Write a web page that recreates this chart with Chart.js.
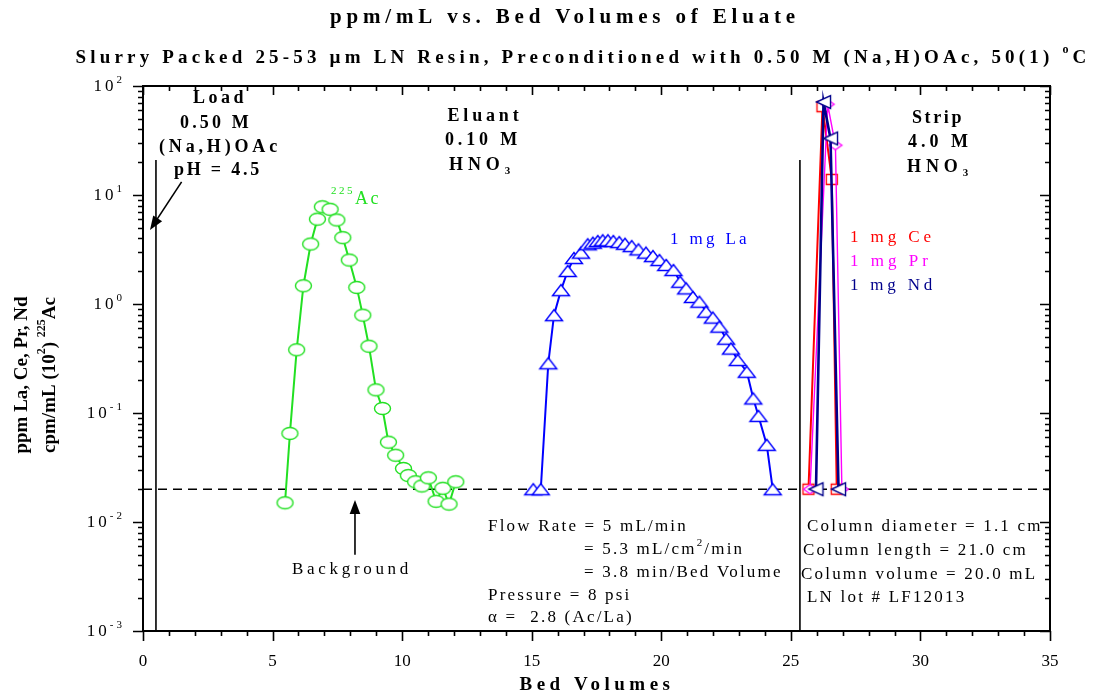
<!DOCTYPE html>
<html>
<head>
<meta charset="utf-8">
<script src="https://cdn.jsdelivr.net/npm/chart.js@4/dist/chart.umd.min.js"></script>
<style>
  html, body { margin: 0; padding: 0; background: #fff; }
  #wrap { width: 1102px; height: 695px; position: relative; }
</style>
</head>
<body>
<div id="wrap"><canvas id="c" width="1102" height="695"></canvas></div>
<script>
// 225Ac activity, cpm/mL (x10^2), by bed volume
const acBV  = [5.48, 5.67, 5.93, 6.19, 6.47, 6.73, 6.92, 7.22, 7.48, 7.71, 7.96, 8.25, 8.48, 8.72,
               8.99, 9.24, 9.47, 9.75, 10.05, 10.24, 10.52, 10.76, 11.01, 11.31, 11.57, 11.81, 12.07];
const acVal = [0.015, 0.065, 0.38, 1.47, 3.55, 6.0, 7.8, 7.4, 5.9, 4.06, 2.53, 1.42, 0.79, 0.41,
               0.163, 0.110, 0.054, 0.041, 0.031, 0.0267, 0.0234, 0.0214, 0.0254, 0.0155, 0.0204, 0.0146, 0.0234];

// La, ppm (1 mg load), eluted with 0.10 M HNO3
const laBV  = [15.06, 15.35, 15.64, 15.86, 16.13, 16.39, 16.63, 16.90, 17.16, 17.36, 17.55, 17.74, 17.94,
               18.15, 18.38, 18.60, 18.86, 19.12, 19.41, 19.68, 19.93, 20.19, 20.47, 20.73, 20.96, 21.22,
               21.47, 21.73, 21.99, 22.24, 22.50, 22.69, 22.95, 23.30, 23.55, 23.75, 24.07, 24.30];
const laVal = [0.020, 0.020, 0.286, 0.79, 1.34, 2.01, 2.64, 2.96, 3.53, 3.65, 3.78, 3.84, 3.84,
               3.78, 3.70, 3.57, 3.40, 3.17, 2.96, 2.75, 2.53, 2.28, 2.05, 1.60, 1.39, 1.16,
               1.05, 0.85, 0.75, 0.62, 0.48, 0.39, 0.306, 0.239, 0.136, 0.094, 0.051, 0.020];

// Ce, Pr, Nd, ppm, stripped with 4.0 M HNO3
const ceBV  = [25.68, 26.22, 26.58, 26.77];
const ceVal = [0.020, 64.6, 13.9, 0.020];
const prBV  = [25.74, 26.42, 26.72, 26.97];
const prVal = [0.020, 68.0, 28.6, 0.020];
const ndBV  = [25.97, 26.26, 26.53, 26.84];
const ndVal = [0.020, 71.3, 33.0, 0.020];

// background level and column-section boundaries
const backgroundLevel = 0.02;
const loadLineBV  = 0.5;
const stripLineBV = 25.35;
const sectionLineTop = 21;

// axes
const xTicks = [0, 5, 10, 15, 20, 25, 30, 35];
const yExponents = [-3, -2, -1, 0, 1, 2];

const FONT = '"Liberation Serif", "Times New Roman", serif';

function pts(xs, ys) { return xs.map((x, i) => ({ x: x, y: ys[i] })); }

// hollow (white-filled) marker bitmaps
function marker(w, h, color, lw, path) {
  const c = document.createElement('canvas');
  c.width = Math.ceil(w + lw * 2 + 2);
  c.height = Math.ceil(h + lw * 2 + 2);
  const g = c.getContext('2d');
  g.translate(c.width / 2, c.height / 2);
  g.beginPath();
  path(g, w / 2, h / 2);
  g.closePath();
  g.fillStyle = '#fff';
  g.fill();
  g.lineWidth = lw;
  g.strokeStyle = color;
  g.lineJoin = 'miter';
  g.stroke();
  return c;
}
const ellipse  = (g, a, b) => g.ellipse(0, 0, a, b, 0, 0, Math.PI * 2);
const triUp    = (g, a, b) => { g.moveTo(0, -b); g.lineTo(a, b); g.lineTo(-a, b); };
const triLeft  = (g, a, b) => { g.moveTo(-a, 0); g.lineTo(a, -b); g.lineTo(a, b); };
const square   = (g, a, b) => g.rect(-a, -b, 2 * a, 2 * b);
const diamond  = (g, a, b) => { g.moveTo(0, -b); g.lineTo(a, 0); g.lineTo(0, b); g.lineTo(-a, 0); };

const GREEN = '#22e022', BLUE = '#0000ff', RED = '#ff0000', MAGENTA = '#ff00ff', NAVY = '#00008b';

const acMark = marker(16, 12, GREEN, 1.4, ellipse);
const laMark = marker(17, 11, BLUE, 1.4, triUp);
const ceMark = marker(11, 10, RED, 1.3, square);
const prMark = marker(13, 9, MAGENTA, 1.3, diamond);
const ndMark = marker(14, 13, NAVY, 1.4, triLeft);

// rich text: parts may carry superscript / subscript pieces
function drawRich(ctx, parts, x, y, o) {
  const size = o.size, weight = o.bold ? 'bold ' : '';
  const segs = parts.map(p => typeof p === 'string' ? { t: p } : p);
  const hasLS = 'letterSpacing' in ctx;
  const fontFor = s => weight + (s.s ? Math.round(size * 0.62) : size) + 'px ' + FONT;
  ctx.save();
  const measure = sp => {
    let w = 0;
    segs.forEach(s => { ctx.font = fontFor(s); if (hasLS) ctx.letterSpacing = sp + 'px'; w += ctx.measureText(s.t).width; });
    return w;
  };
  let sp = o.spacing || 0;
  if (o.width && hasLS) {
    const n = segs.reduce((a, s) => a + s.t.length, 0);
    sp = (o.width - measure(0)) / n;
  }
  const total = measure(sp);
  ctx.translate(x, y);
  if (o.rotate) ctx.rotate(o.rotate);
  let cx = o.align === 'center' ? -total / 2 : o.align === 'right' ? -total : 0;
  ctx.fillStyle = o.color || '#000';
  ctx.textBaseline = 'middle';
  ctx.textAlign = 'left';
  segs.forEach(s => {
    ctx.font = fontFor(s);
    if (hasLS) ctx.letterSpacing = sp + 'px';
    const dy = s.s === 'sup' ? -size * 0.42 : s.s === 'sub' ? size * 0.32 : 0;
    ctx.fillText(s.t, cx, dy);
    cx += ctx.measureText(s.t).width;
  });
  ctx.restore();
}

function arrow(ctx, x1, y1, x2, y2, head) {
  const a = Math.atan2(y2 - y1, x2 - x1);
  ctx.save();
  ctx.strokeStyle = '#000'; ctx.fillStyle = '#000'; ctx.lineWidth = 1.6;
  ctx.beginPath();
  ctx.moveTo(x1, y1);
  ctx.lineTo(x2 - Math.cos(a) * head * 0.8, y2 - Math.sin(a) * head * 0.8);
  ctx.stroke();
  ctx.beginPath();
  ctx.moveTo(x2, y2);
  ctx.lineTo(x2 - head * Math.cos(a) + head * 0.38 * Math.sin(a), y2 - head * Math.sin(a) - head * 0.38 * Math.cos(a));
  ctx.lineTo(x2 - head * Math.cos(a) - head * 0.38 * Math.sin(a), y2 - head * Math.sin(a) + head * 0.38 * Math.cos(a));
  ctx.closePath();
  ctx.fill();
  ctx.restore();
}

const decorations = {
  id: 'decorations',
  afterDraw(chart) {
    const ctx = chart.ctx, xs = chart.scales.x, ys = chart.scales.y, a = chart.chartArea;
    const X = v => xs.getPixelForValue(v), Y = v => ys.getPixelForValue(v);

    // frame and tick marks
    ctx.save();
    ctx.strokeStyle = '#000';
    ctx.lineWidth = 2;
    ctx.strokeRect(a.left, a.top, a.right - a.left, a.bottom - a.top);
    ctx.lineWidth = 1.6;
    ctx.beginPath();
    for (let v = xTicks[0]; v <= xTicks[xTicks.length - 1]; v += 1) {
      const px = Math.round(X(v)) + 0.5, major = v % 5 === 0;
      ctx.moveTo(px, a.bottom); ctx.lineTo(px, a.bottom + (major ? 10 : 5));
      ctx.moveTo(px, a.top); ctx.lineTo(px, a.top + (major ? 9 : 5));
    }
    for (let e = yExponents[0]; e <= yExponents[yExponents.length - 1]; e++) {
      for (let m = 1; m <= 9; m++) {
        if (e === yExponents[yExponents.length - 1] && m > 1) break;
        const py = Math.round(Y(m * Math.pow(10, e))) + 0.5, major = m === 1;
        ctx.moveTo(a.left, py); ctx.lineTo(a.left - (major ? 10 : 5), py);
        ctx.moveTo(a.right, py); ctx.lineTo(a.right - (major ? 10 : 5), py);
      }
    }
    ctx.stroke();
    ctx.restore();

    // y tick labels 10^n
    yExponents.forEach(e => {
      const py = Y(Math.pow(10, e));
      drawRich(ctx, ['10', { t: String(e), s: 'sup' }], a.left - 18, py + 1,
               { size: 17, spacing: 3, align: 'right' });
    });

    // titles
    drawRich(ctx, ['ppm/mL vs. Bed Volumes of Eluate'], 565, 18, { size: 21, bold: true, align: 'center', width: 470 });
    drawRich(ctx, ['Slurry Packed 25-53 µm LN Resin, Preconditioned with 0.50 M (Na,H)OAc, 50(1) ', { t: 'o', s: 'sup' }, 'C'],
             583, 58, { size: 19, bold: true, align: 'center', width: 1015 });
    drawRich(ctx, ['Bed Volumes'], 597, 685, { size: 19, bold: true, align: 'center', width: 155 });
    drawRich(ctx, ['ppm La, Ce, Pr, Nd'], 22, 375, { size: 19, bold: true, align: 'center', rotate: -Math.PI / 2 });
    drawRich(ctx, ['cpm/mL (10', { t: '2', s: 'sup' }, ') ', { t: '225', s: 'sup' }, 'Ac'], 50, 375,
             { size: 19, bold: true, align: 'center', rotate: -Math.PI / 2 });

    // section labels
    const B = (w) => ({ size: 18, bold: true, align: 'center', width: w });
    drawRich(ctx, ['Load'], 220, 98, B(54));
    drawRich(ctx, ['0.50 M'], 216, 123, B(72));
    drawRich(ctx, ['(Na,H)OAc'], 220, 147, B(122));
    drawRich(ctx, ['pH = 4.5'], 218, 170, B(88));
    drawRich(ctx, ['Eluant'], 485, 116, B(75));
    drawRich(ctx, ['0.10 M'], 483, 140, B(76));
    drawRich(ctx, ['HNO', { t: '3', s: 'sub' }], 482, 165, B(66));
    drawRich(ctx, ['Strip'], 938, 118, B(52));
    drawRich(ctx, ['4.0 M'], 940, 142, B(64));
    drawRich(ctx, ['HNO', { t: '3', s: 'sub' }], 940, 167, B(66));

    // series labels
    drawRich(ctx, [{ t: '225', s: 'sup' }, 'Ac'], 331, 199, { size: 18, spacing: 2.5, color: GREEN });
    drawRich(ctx, ['1 mg La'], 670, 240, { size: 17, width: 80, color: BLUE });
    drawRich(ctx, ['1 mg Ce'], 850, 238, { size: 17, width: 85, color: RED });
    drawRich(ctx, ['1 mg Pr'], 850, 262, { size: 17, width: 82, color: MAGENTA });
    drawRich(ctx, ['1 mg Nd'], 850, 286, { size: 17, width: 86, color: NAVY });

    // column / run conditions
    const N = { size: 17, spacing: 2.2 };
    drawRich(ctx, ['Flow Rate = 5 mL/min'], 488, 527, N);
    drawRich(ctx, ['= 5.3 mL/cm', { t: '2', s: 'sup' }, '/min'], 584, 550, N);
    drawRich(ctx, ['= 3.8 min/Bed Volume'], 584, 573, N);
    drawRich(ctx, ['Pressure = 8 psi'], 488, 596, N);
    drawRich(ctx, ['α =  2.8 (Ac/La)'], 488, 618, N);
    drawRich(ctx, ['Column diameter = 1.1 cm'], 807, 527, N);
    drawRich(ctx, ['Column length = 21.0 cm'], 803, 551, N);
    drawRich(ctx, ['Column volume = 20.0 mL'], 801, 575, N);
    drawRich(ctx, ['LN lot # LF12013'], 807, 598, N);
    drawRich(ctx, ['Background'], 352, 570, { size: 17, width: 120, align: 'center' });

    // pointers
    arrow(ctx, X(1.49), Y(13.2), X(0.27), Y(4.77), 14);
    arrow(ctx, X(8.18), Y(0.005), X(8.18), Y(0.0159), 14);
  }
};

const chart = new Chart(document.getElementById('c'), {
  type: 'line',
  data: {
    datasets: [
      { data: pts(ndBV, ndVal), borderColor: NAVY, borderWidth: 2.6, pointStyle: ndMark, pointRadius: 7 },
      { data: pts(prBV, prVal), borderColor: MAGENTA, borderWidth: 1.4, pointStyle: prMark, pointRadius: 6 },
      { data: pts(ceBV, ceVal), borderColor: RED, borderWidth: 2, pointStyle: ceMark, pointRadius: 6 },
      { data: pts(laBV, laVal), borderColor: BLUE, borderWidth: 2, pointStyle: laMark, pointRadius: 8 },
      { data: pts(acBV, acVal), borderColor: GREEN, borderWidth: 2, pointStyle: acMark, pointRadius: 8 },
      { data: pts([0, 35], [backgroundLevel, backgroundLevel]), borderColor: '#000', borderWidth: 1.4,
        borderDash: [9, 6], pointRadius: 0 },
      { data: pts([loadLineBV, loadLineBV], [0.001, sectionLineTop]), borderColor: '#000', borderWidth: 1.6, pointRadius: 0 },
      { data: pts([stripLineBV, stripLineBV], [0.001, sectionLineTop]), borderColor: '#000', borderWidth: 1.6, pointRadius: 0 }
    ]
  },
  options: {
    responsive: false,
    animation: false,
    devicePixelRatio: 1,
    layout: { padding: { left: 0, top: 86, right: 52, bottom: 0 } },
    plugins: { legend: { display: false }, tooltip: { enabled: false }, title: { display: false } },
    elements: { line: { tension: 0 } },
    scales: {
      x: {
        type: 'linear', min: 0, max: 35,
        afterBuildTicks: s => { s.ticks = xTicks.map(v => ({ value: v })); },
        ticks: { color: '#000', font: { family: FONT, size: 17 }, padding: 20, maxRotation: 0, autoSkip: false },
        grid: { display: false, drawTicks: false },
        border: { display: false },
        afterFit: s => { s.height = 64; }
      },
      y: {
        type: 'logarithmic', min: 0.001, max: 100,
        ticks: { display: false },
        grid: { display: false, drawTicks: false },
        border: { display: false },
        afterFit: s => { s.width = 143; }
      }
    }
  },
  plugins: [decorations]
});
</script>
</body>
</html>
